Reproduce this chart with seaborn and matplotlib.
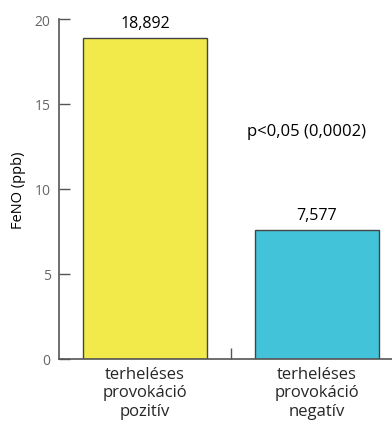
import pandas as pd
import matplotlib.pyplot as plt
import seaborn as sns

categories = ['terheléses\nprovokáció\npozitív', 'terheléses\nprovokáció\nnegatív']
values = [18.892, 7.577]
value_labels = ['18,892', '7,577']
bar_colors = ['#F2EA4A', '#42C3D9']
p_text = 'p<0,05 (0,0002)'

df = pd.DataFrame({'group': categories, 'feno': values})

sns.set_style('white')
plt.rcParams['font.family'] = ['Open Sans', 'DejaVu Sans']

fig = plt.figure(figsize=(3.92, 4.27), dpi=100)
ax = fig.add_axes([59 / 392, 67 / 427, 333 / 392, 340 / 427])

sns.barplot(data=df, x='group', y='feno', hue='group', palette=bar_colors,
            saturation=1, width=0.72, edgecolor='#444444', linewidth=1,
            legend=False, ax=ax)

# value labels above the bars
for i, (v, lab) in enumerate(zip(values, value_labels)):
    ax.text(i, v + 0.4, lab, ha='center', va='bottom', fontsize=11.5, color='black')

ax.text(0.94, 13.4, p_text, ha='center', va='center', fontsize=12, color='black')

ax.set_xlim(-0.5, 1.436)
ax.set_ylim(0, 20)
ax.set_yticks([0, 5, 10, 15, 20])
ax.tick_params(axis='y', left=True, direction='in', length=8, width=1, color='#555555',
               labelcolor='#666666', labelsize=10, pad=6)
ax.tick_params(axis='x', which='major', length=0, labelsize=12, pad=5)
ax.set_xticks([0.5], minor=True)
ax.tick_params(axis='x', which='minor', bottom=True, direction='in', length=8,
               width=1, color='#555555')

ax.set_xlabel('')
ax.set_ylabel('FeNO (ppb)', fontsize=10.5, color='black', labelpad=6)

for s in ['top', 'right']:
    ax.spines[s].set_visible(False)
for s in ['left', 'bottom']:
    ax.spines[s].set_color('#555555')
    ax.spines[s].set_linewidth(1.2)

fig.savefig('out.png', dpi=100)
